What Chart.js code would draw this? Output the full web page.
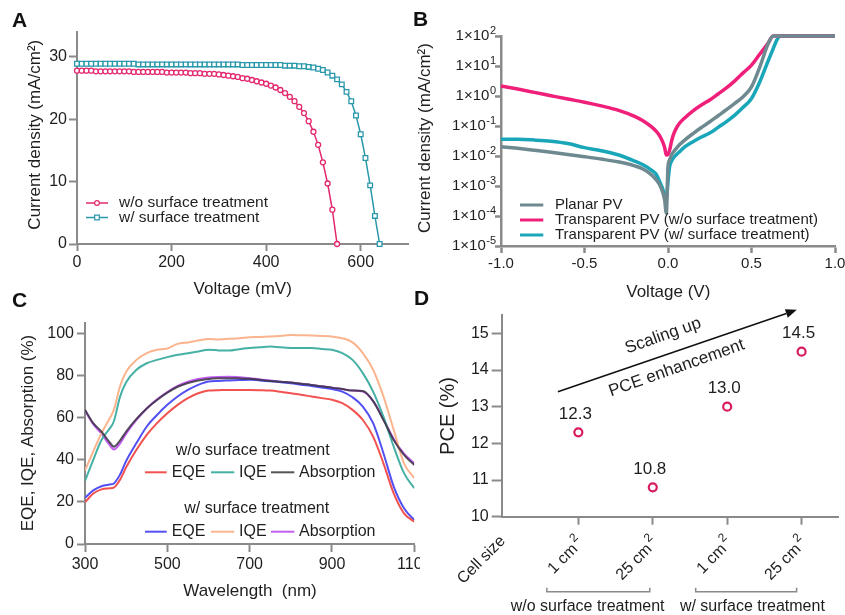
<!DOCTYPE html>
<html lang="en">
<head>
<meta charset="UTF-8">
<meta name="viewport" content="width=device-width, initial-scale=1.0">
<title>Transparent PV: J-V, dark current, EQE/IQE and PCE scaling</title>
<style>
  body { margin: 0; background: #fff; }
  #fig { position: relative; width: 845px; height: 615px; overflow: hidden; }
  #fig canvas { position: absolute; }
  .tag { position: absolute; font: bold 21px/21px 'Liberation Sans', Arial, sans-serif; color: #111; }
</style>
</head>
<body>
<div id="fig">
  <canvas id="chartA" width="420" height="300" style="left:0;top:0"></canvas>
  <canvas id="chartB" width="440" height="300" style="left:405px;top:0"></canvas>
  <canvas id="chartC" width="420" height="315" style="left:0;top:300px"></canvas>
  <canvas id="chartD" width="440" height="315" style="left:405px;top:300px"></canvas>
  <div class="tag" style="left:12px;top:9px">A</div>
  <div class="tag" style="left:413px;top:8px">B</div>
  <div class="tag" style="left:12px;top:289px">C</div>
  <div class="tag" style="left:414px;top:287px">D</div>
</div>

<script src="https://cdn.jsdelivr.net/npm/chart.js@4.4.0/dist/chart.umd.min.js"></script>
<script>
  // ---- A: J-V curves (mV, mA/cm2) ----
  const voltageA = [0,10,20,30,40,50,60,70,80,90,100,110,120,130,140,150,160,170,180,190,
    200,210,220,230,240,250,260,270,280,290,300,310,320,330,340,350,360,370,380,390,
    400,410,420,430,440,450,460,470,480,490,500,510,520,530,540,550,560,570,580,590,
    600,610,620,630,640];
  const jvWithout = [27.8,27.8,27.8,27.8,27.7,27.7,27.7,27.7,27.7,27.7,
    27.7,27.7,27.6,27.6,27.6,27.6,27.6,27.6,27.6,27.5,
    27.5,27.5,27.5,27.5,27.4,27.4,27.4,27.3,27.3,27.3,
    27.2,27.1,27.0,26.9,26.8,26.6,26.5,26.3,26.1,25.9,
    25.7,25.4,25.1,24.7,24.2,23.6,22.9,22.0,21.0,19.7,
    18.0,15.9,13.1,9.7,5.5,0];
  const jvWith = [28.9,28.9,28.9,28.9,28.9,28.9,28.9,28.9,28.9,28.9,
    28.9,28.9,28.9,28.8,28.8,28.8,28.8,28.8,28.8,28.8,
    28.8,28.8,28.8,28.8,28.8,28.8,28.8,28.8,28.8,28.8,
    28.8,28.8,28.8,28.8,28.8,28.7,28.7,28.7,28.7,28.7,
    28.7,28.7,28.7,28.7,28.6,28.6,28.6,28.5,28.5,28.4,
    28.3,28.1,27.9,27.5,27.0,26.4,25.6,24.4,22.9,20.6,
    17.6,13.8,9.4,4.5,0];
  const legendA = ['w/o surface treatment', 'w/ surface treatment'];

  // ---- B: dark J-V, log scale (V, mA/cm2) ----
  const voltageB = [-1.0,-0.9,-0.8,-0.7,-0.6,-0.5,-0.4,-0.3,-0.2,-0.15,-0.1,-0.07,-0.05,-0.03,-0.02,-0.01,
    0,0.01,0.02,0.03,0.05,0.07,0.1,0.15,0.2,0.25,0.3,0.35,0.4,0.45,0.5,0.55,0.6,0.63,0.65,0.67,0.7,0.8,0.9,1.0];
  const darkPlanar = [0.0204,0.018,0.0155,0.0133,0.0113,0.0095,0.0079,0.0064,0.0047,0.0037,0.0024,0.0016,0.0011,0.00058,0.00034,0.000125,
    0.0044,0.0075,0.0105,0.013,0.018,0.024,0.034,0.056,0.089,0.138,0.22,0.35,0.57,0.95,2.0,9.3,56,100,100,100,100,100,100,100];
  const darkWithout = [2.15,1.7,1.32,1.02,0.79,0.62,0.47,0.34,0.21,0.15,0.095,0.066,0.047,0.028,0.019,0.0107,
    0.0112,0.016,0.029,0.047,0.085,0.126,0.186,0.32,0.5,0.74,1.17,1.86,3.2,5.9,10.7,25,58,100,100,100,100,100,100,100];
  const darkWith = [0.036,0.036,0.034,0.031,0.026,0.019,0.015,0.011,0.0068,0.0051,0.0034,0.0024,0.0014,0.00075,0.00044,0.00035,
    0.0014,0.0045,0.0065,0.0082,0.011,0.014,0.02,0.03,0.043,0.058,0.09,0.14,0.23,0.42,0.83,3,15,38,70,100,100,100,100,100];
  const logTicksB = [1e-5,1e-4,1e-3,1e-2,1e-1,1,10,100];
  const logExpB = ['-5','-4','-3','-2','-1','0','1','2'];
  const legendB = ['Planar PV', 'Transparent PV (w/o surface treatment)', 'Transparent PV (w/ surface treatment)'];

  // ---- C: EQE / IQE / absorption (%) ----
  const wavelength = [300,320,340,360,370,385,400,425,450,475,500,525,550,575,600,625,650,675,700,
    725,750,775,800,825,850,875,900,925,950,975,1000,1025,1050,1075,1100];
  const eqeWithout = [19.8,24,26,26.5,26.8,30.5,36.5,44.8,51.9,57.5,62.2,66.2,69.4,71.7,73,73.2,73.3,73.3,73.3,
    73.2,73,72.4,71.7,71,70.2,69.4,68.6,67,63.8,59,51.1,38.4,24.1,14.6,10.6];
  const iqeWithout = [30,40,49.5,55,58.3,70,77,82.9,86,87.6,88.9,90,90.8,91.6,92.4,92.1,92,92.7,93.2,
    93.6,94,93.6,93.3,93.2,93.2,92.8,92.4,90.8,87.6,81.3,72.5,60.6,46.3,33.7,26.5];
  const absWithout = [63.8,57.5,53.5,48.3,46.3,49.2,53.5,59.5,64.5,68.5,72,74.8,76.6,77.8,78.5,78.8,78.9,78.8,78.6,
    78.1,77.6,77.2,76.8,76.2,75.7,75,74.4,73.7,73,72.8,68,59,49.5,42.4,37.6];
  const eqeWith = [22,25.5,27.5,28.3,28.8,33,39.5,48,55.9,61.4,66.2,70.2,73.3,75.7,77.3,77.6,77.8,78,78.2,
    77.8,77.4,77,76.5,75.8,75.2,74.5,73.7,72.5,69.8,65.4,57.5,43.2,27.3,17,11.4];
  const iqeWith = [35,44,52.7,59.8,63.8,75,82,87.6,90.8,92.4,93,95.2,95.9,96.8,97.5,97.3,97.6,97.9,98.4,
    98.5,98.7,99,99.4,99.3,99.2,99,98.7,97.9,95.9,90.8,82.9,70.2,54.3,38.4,31.3];
  const absWith = [63.5,57,52.5,47,45,47.8,52.5,59,64.5,68.8,72.3,75.2,77.2,78.5,79.2,79.5,79.6,79.3,78.9,
    78.3,77.8,77.2,76.8,76.2,75.7,75,74.4,73.7,73,72.5,68,59.5,50,43,38.4];
  const legendC = ['EQE', 'IQE', 'Absorption'];
  const groupNames = ['w/o surface treatment', 'w/ surface treatment'];

  // ---- D: PCE vs cell size ----
  const cellPos = [1, 2, 3, 4];
  const cellLabels = ['1 cm', '25 cm', '1 cm', '25 cm'];
  const pce = [12.3, 10.8, 13.0, 14.5];

  const FONT = "'Liberation Sans', Arial, Helvetica, sans-serif";
  const AXIS = '#8a8a8a';
  const INK = '#1e1e1e';

  Chart.defaults.font.family = FONT;
  Chart.defaults.font.size = 16;
  Chart.defaults.color = INK;
  Chart.defaults.animation = false;
  Chart.defaults.responsive = false;
  Chart.defaults.plugins.legend.display = false;
  Chart.defaults.plugins.tooltip.enabled = false;

  // axis with fixed thickness, ticks only where asked, no grid inside
  function axis(cfg) {
    const lw = cfg.lineWidth || 2;
    return {
      type: cfg.type || 'linear',
      min: cfg.min,
      max: cfg.max,
      afterBuildTicks: s => { s.ticks = cfg.at.map(v => ({ value: v })); },
      afterFit: s => {
        if (s.isHorizontal()) s.height = cfg.size; else s.width = cfg.size;
        s.paddingLeft = s.paddingRight = s.paddingTop = s.paddingBottom = 0;
      },
      grid: { drawOnChartArea: false, tickLength: cfg.tick || 7, tickWidth: lw, tickColor: AXIS, color: AXIS },
      border: { color: AXIS, width: lw },
      ticks: {
        display: cfg.labels !== false,
        padding: cfg.pad ?? 2,
        color: INK,
        font: { size: cfg.font || 16 },
        maxRotation: 0,
        autoSkip: false,
        callback: cfg.fmt || (v => String(v))
      }
    };
  }

  function txt(ctx, s, x, y, o = {}) {
    ctx.save();
    ctx.font = (o.bold ? 'bold ' : '') + (o.size || 16) + 'px ' + FONT;
    ctx.fillStyle = o.color || INK;
    ctx.textAlign = o.align || 'center';
    ctx.textBaseline = o.base || 'middle';
    ctx.translate(x, y);
    if (o.rot) ctx.rotate(o.rot * Math.PI / 180);
    ctx.fillText(s, 0, 0);
    ctx.restore();
  }

  // base text with raised exponent, aligned at x (right or left)
  function supText(ctx, base, exp, x, y, o = {}) {
    const size = o.size || 16, esize = o.esize || 11, gap = o.gap || 0.5;
    ctx.save();
    ctx.fillStyle = INK;
    ctx.textBaseline = 'middle';
    ctx.textAlign = 'left';
    ctx.font = size + 'px ' + FONT;
    const wb = ctx.measureText(base).width;
    ctx.font = esize + 'px ' + FONT;
    const we = ctx.measureText(exp).width;
    const x0 = o.align === 'right' ? x - wb - gap - we : x;
    ctx.font = size + 'px ' + FONT;
    ctx.fillText(base, x0, y);
    ctx.font = esize + 'px ' + FONT;
    ctx.fillText(exp, x0 + wb + gap, y - (o.raise || 6));
    ctx.restore();
  }

  function legendLine(ctx, x1, x2, y, color, lw) {
    ctx.save();
    ctx.strokeStyle = color;
    ctx.lineWidth = lw;
    ctx.beginPath();
    ctx.moveTo(x1, y);
    ctx.lineTo(x2, y);
    ctx.stroke();
    ctx.restore();
  }

  const toPts = (xs, ys) => ys.map((y, i) => ({ x: xs[i], y }));

  // ---------- A ----------
  const PINK_A = '#e3286f', TEAL_A = '#2a98ab';
  new Chart(document.getElementById('chartA'), {
    type: 'line',
    data: {
      datasets: [
        { data: toPts(voltageA, jvWithout), borderColor: PINK_A, borderWidth: 1.5, pointStyle: 'circle',
          pointRadius: 2.5, pointBorderWidth: 1.3, pointBorderColor: PINK_A, pointBackgroundColor: '#fff', clip: false },
        { data: toPts(voltageA, jvWith), borderColor: TEAL_A, borderWidth: 1.5, pointStyle: 'rect',
          pointRadius: 3.3, pointBorderWidth: 1.3, pointBorderColor: TEAL_A, pointBackgroundColor: '#fff', clip: false }
      ]
    },
    options: {
      layout: { padding: { top: 32, right: 12, left: 0, bottom: 0 } },
      scales: {
        x: axis({ min: 0, max: 700, at: [0, 200, 400, 600], size: 56 }),
        y: axis({ min: 0, max: 34, at: [0, 10, 20, 30], size: 77, tick: 8 })
      }
    },
    plugins: [{
      id: 'decoA',
      afterDraw(chart) {
        const ctx = chart.ctx;
        txt(ctx, 'Voltage (mV)', 242.7, 289, { size: 17 });
        txt(ctx, 'Current density (mA/cm²)', 35, 134.7, { size: 17, rot: -90 });
        const rows = [[PINK_A, 203, 'circle'], [TEAL_A, 217.5, 'rect']];
        rows.forEach(([c, y, shape], i) => {
          legendLine(ctx, 86, 108, y, c, 1.5);
          ctx.save();
          ctx.strokeStyle = c; ctx.fillStyle = '#fff'; ctx.lineWidth = 1.2;
          ctx.beginPath();
          if (shape === 'circle') ctx.arc(97, y, 2.4, 0, Math.PI * 2);
          else ctx.rect(94.7, y - 2.3, 4.6, 4.6);
          ctx.fill(); ctx.stroke();
          ctx.restore();
          txt(ctx, legendA[i], 119, y, { size: 15.5, align: 'left' });
        });
      }
    }]
  });

  // ---------- B ----------
  const GRAY_B = '#6e8a90', PINK_B = '#f0207a', TEAL_B = '#18a6b8';
  new Chart(document.getElementById('chartB'), {
    type: 'line',
    data: {
      datasets: [
        { data: toPts(voltageB, darkPlanar), borderColor: GRAY_B, borderWidth: 3.5, pointRadius: 0, cubicInterpolationMode: 'monotone', clip: false },
        { data: toPts(voltageB, darkWithout), borderColor: PINK_B, borderWidth: 3.5, pointRadius: 0, cubicInterpolationMode: 'monotone', clip: false },
        { data: toPts(voltageB, darkWith), borderColor: TEAL_B, borderWidth: 3.5, pointRadius: 0, cubicInterpolationMode: 'monotone', clip: false }
      ]
    },
    options: {
      layout: { padding: { top: 36, right: 10, left: 0, bottom: 0 } },
      scales: {
        x: axis({ min: -1, max: 1, at: [-1, -0.5, 0, 0.5, 1], size: 54, fmt: v => v.toFixed(1), lineWidth: 2.5, font: 15 }),
        y: axis({ type: 'logarithmic', min: 1e-5, max: 100, at: logTicksB, size: 96, labels: false, tick: 6, lineWidth: 2.5 })
      }
    },
    plugins: [{
      id: 'decoB',
      afterDraw(chart) {
        const ctx = chart.ctx, ys = chart.scales.y, left = chart.chartArea.left;
        logTicksB.forEach((v, i) => {
          supText(ctx, '1×10', logExpB[i], left - 5, ys.getPixelForValue(v), { align: 'right', size: 15, esize: 11, raise: 5 });
        });
        txt(ctx, 'Voltage (V)', 263.3, 292, { size: 17 });
        txt(ctx, 'Current density (mA/cm²)', 20, 138, { size: 17, rot: -90 });
        [GRAY_B, PINK_B, TEAL_B].forEach((c, i) => {
          const y = 205 + i * 15;
          legendLine(ctx, 115, 138.3, y, c, 3);
          txt(ctx, legendB[i], 150, y, { size: 15, align: 'left' });
        });
      }
    }]
  });

  // ---------- C ----------
  const RED_C = '#f2524f', TEAL_C = '#45b0a4', DARK_C = '#555555', BLUE_C = '#5250f2', PEACH_C = '#fab48e', PURPLE_C = '#c25ef2';
  const lineC = (ys, color) => ({ data: toPts(wavelength, ys), borderColor: color, borderWidth: 2, pointRadius: 0, cubicInterpolationMode: 'monotone' });
  new Chart(document.getElementById('chartC'), {
    type: 'line',
    data: {
      datasets: [
        lineC(absWithout, 'rgba(62,52,70,0.88)'),
        lineC(eqeWithout, RED_C),
        lineC(iqeWithout, TEAL_C),
        lineC(eqeWith, BLUE_C),
        lineC(iqeWith, PEACH_C),
        lineC(absWith, PURPLE_C)
      ]
    },
    options: {
      layout: { padding: { top: 23.3, right: 5.7, left: 0, bottom: 0 } },
      scales: {
        x: axis({ min: 300, max: 1100, at: [300, 500, 700, 900, 1100], size: 71, tick: 8, pad: 3 }),
        y: axis({ min: 0, max: 105, at: [0, 20, 40, 60, 80, 100], size: 85, tick: 8, pad: 3 })
      }
    },
    plugins: [{
      id: 'decoC',
      afterDraw(chart) {
        const ctx = chart.ctx;
        txt(ctx, 'Wavelength  (nm)', 250, 291.7, { size: 17 });
        txt(ctx, 'EQE, IQE, Absorption (%)', 28, 133, { size: 17, rot: -90 });
        const segs = [[145, 166.7, 171.7], [211, 234.3, 239], [271, 294.3, 299]];
        const groups = [[groupNames[0], 252.7, 150.7, 172.3, [RED_C, TEAL_C, DARK_C]],
                        [groupNames[1], 256.7, 208.3, 231.7, [BLUE_C, PEACH_C, PURPLE_C]]];
        groups.forEach(([name, cx, hy, ry, cols]) => {
          txt(ctx, name, cx, hy, { size: 16 });
          segs.forEach(([a, b, t], i) => {
            legendLine(ctx, a, b, ry, cols[i], 2);
            txt(ctx, legendC[i], t, ry, { size: 16, align: 'left' });
          });
        });
      }
    }]
  });

  // ---------- D ----------
  const PINK_D = '#d81b60';
  new Chart(document.getElementById('chartD'), {
    type: 'scatter',
    data: {
      datasets: [{ data: toPts(cellPos, pce), pointRadius: 4, pointBorderWidth: 2.2, pointBorderColor: PINK_D, pointBackgroundColor: 'rgba(255,255,255,0)', clip: false }]
    },
    options: {
      layout: { padding: { top: 15, right: 2.4, left: 0, bottom: 0 } },
      scales: {
        x: axis({ min: -0.03, max: 4.5, at: cellPos, size: 98.3, tick: 8, labels: false }),
        y: axis({ min: 10, max: 15.5, at: [10, 11, 12, 13, 14, 15], size: 96.7, tick: 10, pad: 3 })
      }
    },
    plugins: [{
      id: 'decoD',
      afterDraw(chart) {
        const ctx = chart.ctx, xs = chart.scales.x, ys = chart.scales.y;
        const px = v => xs.getPixelForValue(v), py = v => ys.getPixelForValue(v);

        txt(ctx, 'PCE (%)', 43.3, 116, { size: 20, rot: -90 });

        // value labels
        pce.forEach((v, i) => txt(ctx, v.toFixed(1), px(cellPos[i]) - 3, py(v) - 18, { size: 17 }));

        // arrow with captions
        const x1 = px(0.725), y1 = py(13.41), x2 = px(3.935), y2 = py(15.64);
        const ang = Math.atan2(y2 - y1, x2 - x1);
        const hl = 11, hw = 4.5;
        ctx.save();
        ctx.strokeStyle = '#111'; ctx.fillStyle = '#111'; ctx.lineWidth = 1.6;
        ctx.beginPath();
        ctx.moveTo(x1, y1);
        ctx.lineTo(x2 - hl * Math.cos(ang), y2 - hl * Math.sin(ang));
        ctx.stroke();
        ctx.beginPath();
        ctx.moveTo(x2, y2);
        ctx.lineTo(x2 - hl * Math.cos(ang) + hw * Math.sin(ang), y2 - hl * Math.sin(ang) - hw * Math.cos(ang));
        ctx.lineTo(x2 - hl * Math.cos(ang) - hw * Math.sin(ang), y2 - hl * Math.sin(ang) + hw * Math.cos(ang));
        ctx.closePath();
        ctx.fill();
        ctx.restore();
        txt(ctx, 'Scaling up', px(2.14), py(14.93), { size: 17, rot: -19.5 });
        txt(ctx, 'PCE enhancement', px(2.32), py(14.05), { size: 17, rot: -19.5 });

        // rotated category labels
        const labelRow = chart.chartArea.bottom + 24;
        ctx.save();
        ctx.translate(px(0) - 1, labelRow - 2);
        ctx.rotate(-Math.PI / 4);
        txt(ctx, 'Cell size', 0, 0, { size: 16, align: 'right' });
        ctx.restore();
        cellPos.forEach((c, i) => {
          ctx.save();
          ctx.translate(px(c) + 3, labelRow);
          ctx.rotate(-Math.PI / 4);
          supText(ctx, cellLabels[i], '2', 0, 0, { align: 'right', size: 16, esize: 12, raise: 7, gap: 2 });
          ctx.restore();
        });

        // group brackets
        const by = chart.chartArea.bottom + 75;
        const brackets = [[px(1) - 31.5, px(2) - 3, (px(1) + px(2)) / 2 - 28],
                          [px(3) - 31.5, px(4) - 5, (px(3) + px(4)) / 2 - 12]];
        brackets.forEach(([a, b, cx], i) => {
          ctx.save();
          ctx.strokeStyle = AXIS; ctx.lineWidth = 1.5;
          ctx.beginPath();
          ctx.moveTo(a, by - 4); ctx.lineTo(a, by); ctx.lineTo(b, by); ctx.lineTo(b, by - 4);
          ctx.stroke();
          ctx.restore();
          txt(ctx, groupNames[i], cx, by + 15, { size: 16 });
        });
      }
    }]
  });
</script>
</body>
</html>
